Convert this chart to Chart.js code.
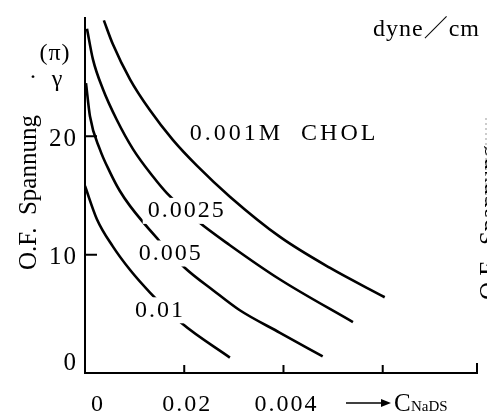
<!DOCTYPE html>
<html lang="ja">
<head>
<meta charset="UTF-8">
<title>O.F. Spannung</title>
<style>
    html, body { margin: 0; padding: 0; background: #fff; }
</style>
</head>
<body>
<canvas id="myChart" width="487" height="415"></canvas>

<script src="https://cdn.jsdelivr.net/npm/chart.js"></script>
<script>
    // x = C_NaDS, y = surface tension (dyne/cm)
    const seriesNames = ['0.001M  CHOL', '0.0025', '0.005', '0.01'];

    const chol0010X = [0.0038, 0.0056, 0.0091, 0.0131, 0.0177, 0.0226, 0.0292, 0.0393, 0.0493, 0.0604];
    const chol0010Y = [29.8, 27.8, 24.8, 22.2, 19.7, 17.5, 14.9, 11.5, 8.9, 6.4];

    const chol0025X = [0.0004, 0.0016, 0.0036, 0.0064, 0.0097, 0.0137, 0.0165, 0.0228, 0.0292, 0.0393, 0.0540];
    const chol0025Y = [29.1, 26.5, 24.0, 21.4, 18.9, 16.6, 15.2, 12.8, 10.8, 7.9, 4.3];

    const chol005X = [0.0002, 0.0010, 0.0030, 0.0050, 0.0070, 0.0091, 0.0147, 0.0201, 0.0258, 0.0312, 0.0393, 0.0479];
    const chol005Y = [24.5, 21.7, 18.9, 17.0, 15.4, 14.1, 11.3, 8.9, 7.0, 5.3, 3.4, 1.4];

    const chol01X = [0.0, 0.0024, 0.0056, 0.0091, 0.0131, 0.0195, 0.0292];
    const chol01Y = [15.8, 13.0, 10.7, 8.7, 6.8, 4.2, 1.3];

    const xTickValues = [0, 0.02, 0.04];
    const xTickLabels = ['0', '0.02', '0.004'];
    const yTickValues = [0, 10, 20];
    const yTickLabels = ['0', '10', '20'];

    const seriesX = [chol0010X, chol0025X, chol005X, chol01X];
    const seriesY = [chol0010Y, chol0025Y, chol005Y, chol01Y];

    const serif = '"Liberation Serif", "DejaVu Serif", "Noto Sans CJK JP", serif';

    function pairUp(xs, ys) {
        return xs.map((x, i) => ({x: x, y: ys[i]}))
    }

    const datasets = seriesNames.map((name, i) => ({
        label: name,
        data: pairUp(seriesX[i], seriesY[i]),
        showLine: true,
        borderColor: '#000',
        borderWidth: 2.6,
        pointRadius: 0,
        cubicInterpolationMode: 'monotone',
        fill: false
    }))

    // where the curve names sit (data units); a white box under each cuts the curve like the print
    const curveNotes = [
        {text: seriesNames[0], x: 0.0211, y: 20.2, align: 'left', spacing: 3, box: false},
        {text: seriesNames[1], x: 0.0205, y: 13.7, align: 'center', spacing: 2, box: true},
        {text: seriesNames[2], x: 0.0173, y: 10.1, align: 'center', spacing: 2, box: true},
        {text: seriesNames[3], x: 0.0151, y: 5.3, align: 'center', spacing: 2, box: true}
    ]

    function write(c, s, x, y, size, align, spacing) {
        c.font = size + 'px ' + serif;
        c.textAlign = align || 'left';
        c.letterSpacing = (spacing || 0) + 'px';
        c.fillText(s, x, y);
    }

    const paperPlugin = {
        id: 'paper',
        afterDraw(chart) {
            const c = chart.ctx;
            const area = chart.chartArea;
            const xs = chart.scales.x;
            const ys = chart.scales.y;
            c.save();
            c.fillStyle = '#000';
            c.strokeStyle = '#000';
            c.textBaseline = 'middle';

            // inward tick marks
            c.lineWidth = 2;
            c.beginPath();
            [10, 20].forEach(v => {
                const py = ys.getPixelForValue(v);
                c.moveTo(area.left, py);
                c.lineTo(area.left + 12, py);
            });
            [0.02, 0.04, 0.06].forEach(v => {
                const px = xs.getPixelForValue(v);
                c.moveTo(px, area.bottom);
                c.lineTo(px, area.bottom - 8);
            });
            c.moveTo(area.right, area.bottom + 1);
            c.lineTo(area.right, area.bottom - 10);
            c.stroke();

            // tick labels
            yTickValues.forEach((v, i) => {
                const py = ys.getPixelForValue(v) + (v === 0 ? -10 : 3);
                write(c, yTickLabels[i], area.left - 7, py, 25, 'right', 2);
            });
            xTickValues.forEach((v, i) => {
                const px = xs.getPixelForValue(v) + (v === 0 ? 13 : 3);
                write(c, xTickLabels[i], px, area.bottom + 32, 24, 'center', 2);
            });

            // arrow + C_NaDS
            const ay = area.bottom + 30;
            c.lineWidth = 1.3;
            c.beginPath();
            c.moveTo(346, ay);
            c.lineTo(384, ay);
            c.stroke();
            c.beginPath();
            c.moveTo(391, ay);
            c.lineTo(381, ay - 4);
            c.lineTo(381, ay + 4);
            c.closePath();
            c.fill();
            write(c, 'C', 394, ay + 1, 25, 'left', 0);
            write(c, 'NaDS', 411, ay + 4, 15, 'left', 0);

            // curve names
            curveNotes.forEach(n => {
                const px = xs.getPixelForValue(n.x);
                const py = ys.getPixelForValue(n.y);
                c.font = '24px ' + serif;
                c.letterSpacing = n.spacing + 'px';
                const w = c.measureText(n.text).width;
                if (n.box) {
                    const left = n.align === 'center' ? px - w / 2 : px;
                    c.fillStyle = '#fff';
                    c.fillRect(left - 5, py - 13, w + 8, 26);
                    c.fillStyle = '#000';
                }
                write(c, n.text, px, py, 24, n.align, n.spacing);
            });

            // unit
            write(c, 'dyne／cm', 373, 30, 24, 'left', 1);

            // y title
            write(c, '(π)', 55, 54, 24, 'center', 1);
            write(c, '·', 33, 78, 24, 'center', 0);
            write(c, 'γ', 57, 80, 24, 'center', 0);
            c.save();
            c.translate(36, 270);
            c.rotate(-Math.PI / 2);
            c.textBaseline = 'alphabetic';
            write(c, 'O.F.  Spannung', 0, 0, 25, 'left', 0);
            c.restore();

            // edge of the next figure on the page
            c.save();
            c.translate(497, 300);
            c.rotate(-Math.PI / 2);
            c.textBaseline = 'alphabetic';
            write(c, 'O.F.  Spannung', 0, 0, 25, 'left', 0);
            c.restore();
            c.strokeStyle = '#999';
            c.lineWidth = 1;
            c.setLineDash([2, 3]);
            c.beginPath();
            c.moveTo(486, 118);
            c.lineTo(486, 200);
            c.stroke();

            c.restore();
        }
    }

    const ctx = document.getElementById('myChart');
    new Chart(ctx, {
        type: 'scatter',
        data: { datasets: datasets },
        options: {
            responsive: false,
            animation: false,
            layout: { padding: { left: 85, right: 10, top: 18, bottom: 42 } },
            plugins: {
                legend: { display: false },
                tooltip: { enabled: false }
            },
            scales: {
                x: {
                    type: 'linear',
                    min: 0,
                    max: 0.079,
                    grid: { display: false, drawTicks: false },
                    border: { display: true, color: '#000', width: 2 },
                    ticks: { display: false }
                },
                y: {
                    min: 0,
                    max: 30,
                    grid: { display: false, drawTicks: false },
                    border: { display: true, color: '#000', width: 2 },
                    ticks: { display: false }
                }
            }
        },
        plugins: [paperPlugin]
    });
</script>
</body>
</html>
